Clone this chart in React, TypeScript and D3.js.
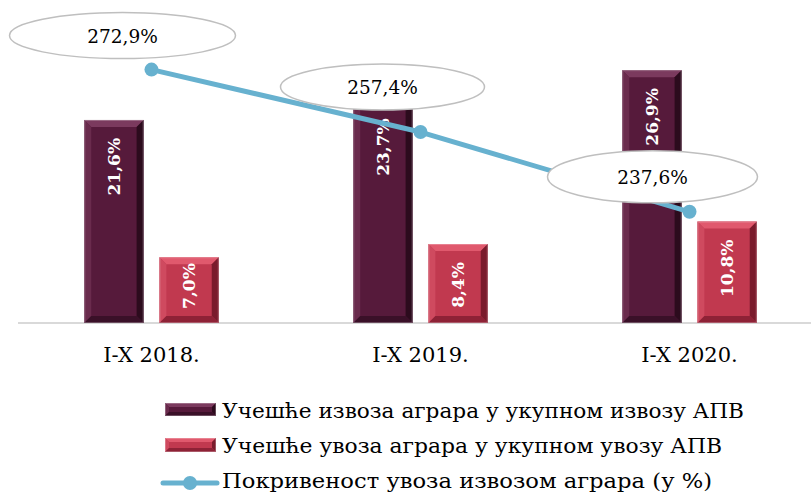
import React from 'react';
import { scaleBand, scaleLinear, line } from 'd3';

const width = 811;
const height = 495;

const categories = ['I-X 2018.', 'I-X 2019.', 'I-X 2020.'];
const exportShare = [21.6, 23.7, 26.9];
const importShare = [7.0, 8.4, 10.8];
const coverage = [272.9, 257.4, 237.6];
const seriesNames = [
    'Учешће извоза аграра у укупном извозу АПВ',
    'Учешће увоза аграра у укупном увозу АПВ',
    'Покривеност увоза извозом аграра (у %)',
];

// callout placement relative to each point (hand tuned, like the original)
const calloutOffsets = [[-29, -34], [-38, -45], [-37, -35]];
const calloutRadii = [[113, 23], [102, 23], [105, 26]];
// legend text widths, to match the wider original face
const legendWidths = [522, 500, 490];

const fmt = (v: number) => v.toFixed(1).replace('.', ',') + '%';

const baseY = 323;
const topY = 41;

const x0 = scaleBand<string>()
    .domain(categories)
    .range([17, 824])
    .paddingInner(0.5)
    .paddingOuter(0.25);

const x1 = scaleBand<number>()
    .domain([0, 1])
    .range([0, x0.bandwidth()])
    .paddingInner(0.21);

const y = scaleLinear().domain([0, 30]).range([baseY, topY]);
const y2 = scaleLinear().domain([210, 280]).range([baseY, topY]);

const palettes = [
    { body: '#561a3b', top: '#7b3a5e', left: '#6a2b4d', right: '#2c0b1d', bottom: '#3a1028' },
    { body: '#c1394f', top: '#e0596d', left: '#cf4a5f', right: '#7a1b2c', bottom: '#8e2236' },
];

const lineColor = '#67b1cf';
const serif = '"DejaVu Serif", "Liberation Serif", serif';

function BevelBar({ x, y0, w, h, p, b = 7 }: { x: number; y0: number; w: number; h: number; p: typeof palettes[0]; b?: number }) {
    const x2 = x + w;
    const y1 = y0 + h;
    const bb = Math.min(b, w / 2, h / 2);
    const pts = (arr: number[][]) => arr.map(d => d.join(',')).join(' ');
    return (
        <g>
            <rect x={x} y={y0} width={w} height={h} fill={p.body} />
            <polygon points={pts([[x, y0], [x2, y0], [x2 - bb, y0 + bb], [x + bb, y0 + bb]])} fill={p.top} />
            <polygon points={pts([[x, y0], [x + bb, y0 + bb], [x + bb, y1 - bb], [x, y1]])} fill={p.left} />
            <polygon points={pts([[x2, y0], [x2, y1], [x2 - bb, y1 - bb], [x2 - bb, y0 + bb]])} fill={p.right} />
            <polygon points={pts([[x, y1], [x + bb, y1 - bb], [x2 - bb, y1 - bb], [x2, y1]])} fill={p.bottom} />
            <rect x={x + 0.5} y={y0 + 0.5} width={w - 1} height={h - 1} fill="none" stroke="#ffffff" strokeOpacity={0.25} />
        </g>
    );
}

export default function App() {
    const series = [exportShare, importShare];
    const cx = (c: string) => (x0(c) as number) + x0.bandwidth() / 2;

    const points = categories.map((c, i) => [cx(c), y2(coverage[i])] as [number, number]);
    const path = line()(points) as string;

    return (
        <svg width={width} height={height} style={{ position: 'absolute', left: 0, top: 0, background: '#fff' }}>
            <line x1={18} x2={width} y1={baseY} y2={baseY} stroke="#d9d9d9" strokeWidth={2} />

            {series.map((vals, s) =>
                categories.map((c, i) => {
                    const bx = (x0(c) as number) + (x1(s) as number);
                    const bw = x1.bandwidth();
                    const by = y(vals[i]);
                    const bh = baseY - by;
                    const labelEnd = Math.min(by + 18, baseY - 60);
                    return (
                        <g key={`${s}-${i}`}>
                            <BevelBar x={bx} y0={by} w={bw} h={bh} p={palettes[s]} />
                            <text
                                transform={`translate(${bx + bw / 2 + 6},${Math.max(labelEnd, by + 6)}) rotate(-90)`}
                                textAnchor="end"
                                fill="#fff"
                                fontFamily={serif}
                                fontWeight="bold"
                                fontSize={17}
                            >
                                {fmt(vals[i])}
                            </text>
                        </g>
                    );
                })
            )}

            {categories.map(c => (
                <text key={c} x={cx(c)} y={362} textAnchor="middle" fontFamily={serif} fontSize={21} fill="#000">
                    {c}
                </text>
            ))}

            <path d={path} fill="none" stroke={lineColor} strokeWidth={5} strokeLinejoin="round" />
            {points.map((p, i) => (
                <circle key={i} cx={p[0]} cy={p[1]} r={7} fill={lineColor} />
            ))}

            {points.map((p, i) => {
                const ex = p[0] + calloutOffsets[i][0];
                const ey = p[1] + calloutOffsets[i][1];
                return (
                    <g key={`c${i}`}>
                        <ellipse cx={ex} cy={ey} rx={calloutRadii[i][0]} ry={calloutRadii[i][1]} fill="#fff" stroke="#bfbfbf" strokeWidth={1.5} />
                        <text x={ex} y={ey + 7} textAnchor="middle" fontFamily={serif} fontSize={18.5} fill="#000">
                            {fmt(coverage[i])}
                        </text>
                    </g>
                );
            })}

            <g>
                <BevelBar x={165} y0={403} w={51} h={13} p={palettes[0]} b={4} />
                <text x={222} y={418} fontFamily={serif} fontSize={21} fill="#000" textLength={legendWidths[0]} lengthAdjust="spacingAndGlyphs">{seriesNames[0]}</text>
                <BevelBar x={165} y0={438} w={51} h={14} p={palettes[1]} b={4} />
                <text x={222} y={453} fontFamily={serif} fontSize={21} fill="#000" textLength={legendWidths[1]} lengthAdjust="spacingAndGlyphs">{seriesNames[1]}</text>
                <line x1={163} x2={217} y1={483} y2={483} stroke={lineColor} strokeWidth={5} strokeLinecap="round" />
                <circle cx={190} cy={483} r={7} fill={lineColor} />
                <text x={222} y={488} fontFamily={serif} fontSize={21} fill="#000" textLength={legendWidths[2]} lengthAdjust="spacingAndGlyphs">{seriesNames[2]}</text>
            </g>
        </svg>
    );
}
